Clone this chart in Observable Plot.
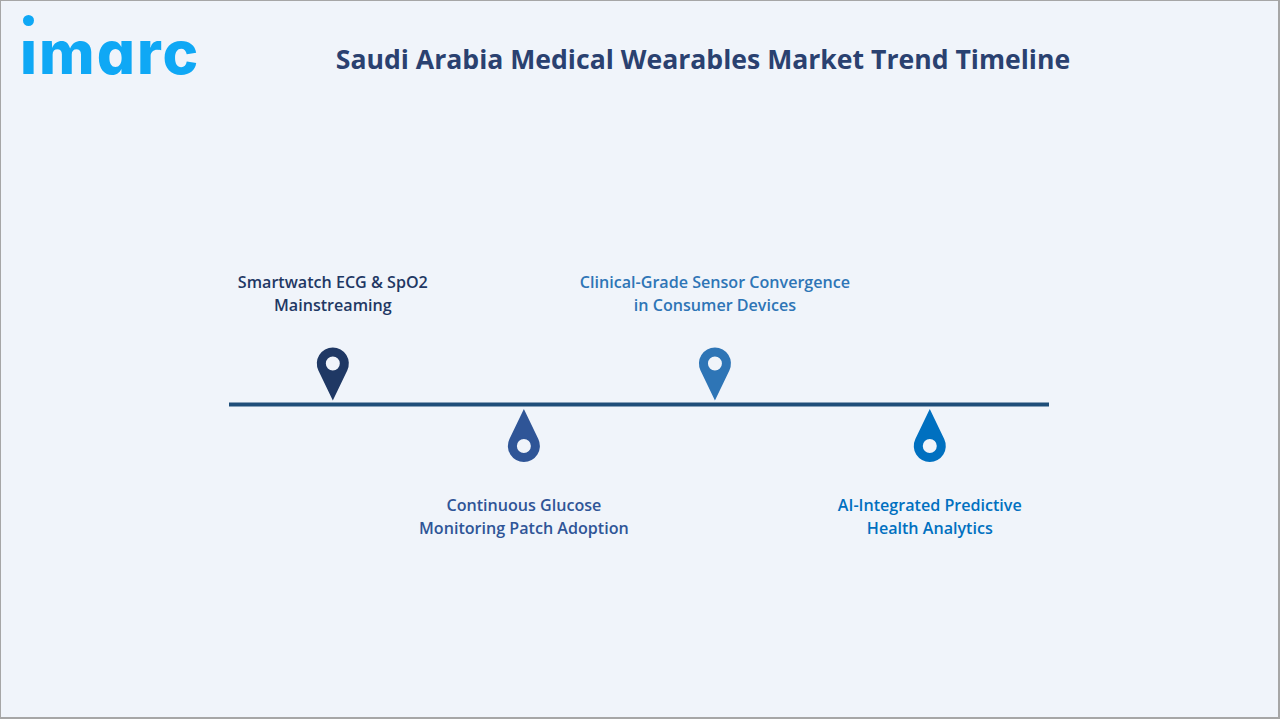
<!DOCTYPE html>
<html>
<head>
<meta charset="utf-8">
<script src="https://cdn.jsdelivr.net/npm/d3@7"></script>
<script src="https://cdn.jsdelivr.net/npm/@observablehq/plot@0.6"></script>
<style>
html,body{margin:0;padding:0;background:#fff;}
#frame{position:absolute;left:0;top:0;width:1277px;height:716px;background:#f0f4fa;border-style:solid;border-color:#a6a6a6;border-width:1px 2px 2px 1px;overflow:hidden;}
#logo{position:absolute;left:19px;top:16px;margin:0;font:800 60px/70px Inter,sans-serif;font-feature-settings:"cv11" 1;color:#0fa8f5;letter-spacing:2px;clip-path:inset(24px -10px 0 -10px);}
#logoDot{position:absolute;left:22px;top:14px;width:11px;height:11px;border-radius:50%;background:#0fa8f5;}
#title{position:absolute;left:0;width:1404px;top:39px;margin:0;text-align:center;font:700 26.6px/38px "Open Sans",sans-serif;color:#2a4170;white-space:nowrap;}
#chart{position:absolute;left:0;top:0;width:1280px;}
#chart svg{display:block;background:transparent;}
</style>
</head>
<body>
<div id="frame">
  <div id="logo">imarc</div>
  <div id="logoDot"></div>
  <h1 id="title">Saudi Arabia Medical Wearables Market Trend Timeline</h1>
</div>
<div id="chart"></div>
<script>
const milestones = [
  "Smartwatch ECG & SpO2\nMainstreaming",
  "Continuous Glucose\nMonitoring Patch Adoption",
  "Clinical-Grade Sensor Convergence\nin Consumer Devices",
  "AI-Integrated Predictive\nHealth Analytics"
];
const axisShare = [12.6, 35.9, 59.2, 85.4];
const sides = ["up", "down", "up", "down"];
const palette = ["#1f3864", "#2f5597", "#2e75b6", "#0070c0"];
const axisExtent = [0, 100];

const rows = milestones.map((label, i) => ({label, at: axisShare[i], side: sides[i]}));
const ups = rows.filter(d => d.side === "up");
const downs = rows.filter(d => d.side === "down");

function pin(dir) {
  return {
    draw(ctx, size) {
      const r = Math.sqrt(size / Math.PI);
      const cy = dir * r * 37 / 16;
      const th = Math.asin(16 / 37);
      const tx = r * Math.cos(th), ty = cy - dir * r * Math.sin(th);
      ctx.moveTo(0, 0);
      ctx.lineTo(tx, ty);
      if (dir < 0) ctx.arc(0, cy, r, th, Math.PI - th, true);
      else ctx.arc(0, cy, r, -th, Math.PI + th, false);
      ctx.closePath();
      const hr = r * 7 / 16;
      ctx.moveTo(hr, cy);
      ctx.arc(0, cy, hr, 0, 2 * Math.PI, dir < 0 ? false : true);
      ctx.closePath();
    }
  };
}

const textBase = {
  x: "at", y: 0, text: "label", fill: "label",
  fontFamily: "'Open Sans', sans-serif", fontWeight: 600, fontSize: 16.1,
  lineHeight: 1.43, textAnchor: "middle", lineAnchor: "middle"
};

const plot = Plot.plot({
  width: 1280, height: 720,
  marginLeft: 229, marginRight: 231, marginTop: 88, marginBottom: 0,
  style: {background: "transparent", overflow: "visible"},
  x: {domain: axisExtent, axis: null},
  y: {domain: [-1, 1], axis: null},
  color: {domain: milestones, range: palette},
  marks: [
    Plot.ruleY([0], {x1: axisExtent[0], x2: axisExtent[1], stroke: "#1f4e79", strokeWidth: 4}),
    Plot.dot(ups, {x: "at", y: 0, r: 16, symbol: pin(-1), fill: "label", stroke: "none", dy: -4}),
    Plot.dot(downs, {x: "at", y: 0, r: 16, symbol: pin(1), fill: "label", stroke: "none", dy: 4.5}),
    Plot.text(ups, {...textBase, dy: -112.5}),
    Plot.text(downs, {...textBase, dy: 111})
  ]
});
document.getElementById("chart").appendChild(plot);
</script>
</body>
</html>
